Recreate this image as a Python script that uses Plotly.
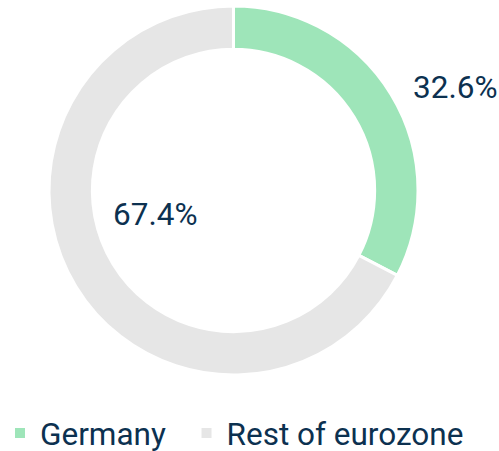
import plotly.graph_objects as go

labels = ["Germany", "Rest of eurozone"]
values = [32.6, 67.4]
colors = ["#9ee5b9", "#e6e6e6"]
text_color = "#0c3150"

# a little trailing non-breaking space widens the first legend entry (spacing only)
legend_labels = [labels[0] + "\u00a0\u00a0", labels[1]]

fig = go.Figure(go.Pie(
    labels=legend_labels,
    values=values,
    hole=0.765,
    sort=False,
    direction="clockwise",
    rotation=0,
    marker=dict(colors=colors, line=dict(color="white", width=3)),
    textinfo="none",
    hoverinfo="label+percent",
    domain=dict(x=[0, 0.9359], y=[0.1685, 0.9867]),
))

# label positions (paper coords) for each slice's percentage
label_pos = [(0.9138, 0.8049), (0.3126, 0.5233)]
for v, (px, py) in zip(values, label_pos):
    fig.add_annotation(
        x=px, y=py, xref="paper", yref="paper",
        text=f"{v:.1f}%", showarrow=False,
        font=dict(family="Roboto", size=31.5, color=text_color),
        xanchor="center", yanchor="middle",
    )

fig.update_layout(
    width=499, height=451,
    margin=dict(l=0, r=0, t=0, b=0, autoexpand=False),
    paper_bgcolor="white", plot_bgcolor="white",
    showlegend=True,
    legend=dict(
        orientation="h", x=0.0, xanchor="left", y=0.0399, yanchor="middle",
        font=dict(family="Roboto", size=31.5, color=text_color),
        itemsizing="constant",
    ),
    font=dict(family="Roboto", color=text_color),
)

fig.write_html(
    "out.html",
    config={"displayModeBar": False},
    post_script="document.body.style.margin='0';document.body.style.overflow='hidden';",
)
